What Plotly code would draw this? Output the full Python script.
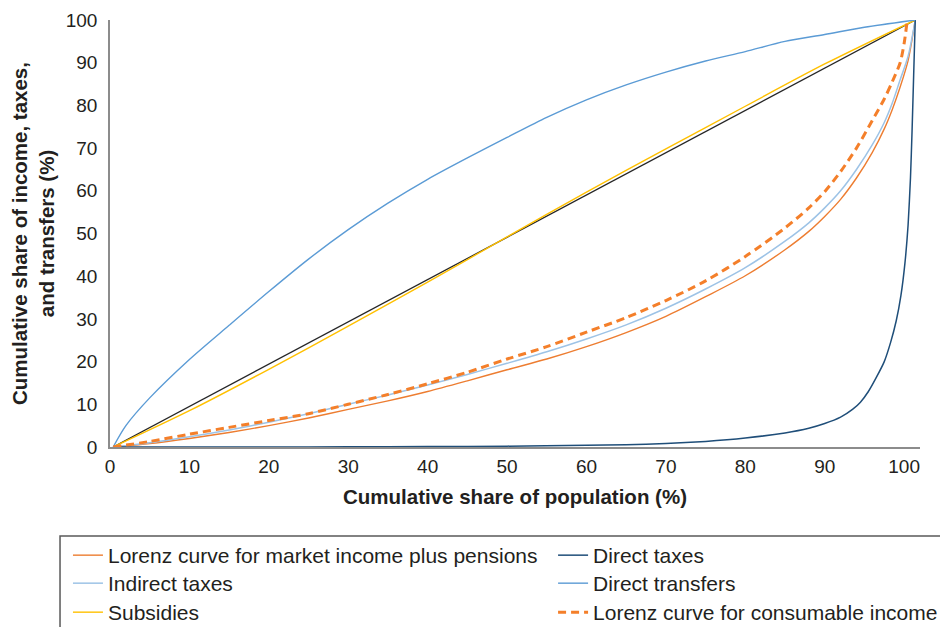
import plotly.graph_objects as go

# ---- data ----
equality_x = [0.4, 101.4]
equality_y = [0, 100]

lorenz_x = [0.4, 5, 10, 15, 20, 25, 30, 35, 40, 45, 50, 55, 60, 65, 70, 75, 80, 85, 88, 90, 92, 94, 96, 97.5, 98.5, 99.5, 100.5, 101.4]
market_y = [0, 0.8, 2.0, 3.4, 5.0, 6.8, 8.8, 10.8, 13.0, 15.5, 18.1, 20.6, 23.5, 26.8, 30.6, 35.2, 40.1, 46.2, 50.5, 54.0, 58.0, 63.0, 69.0, 74.5, 79.0, 84.3, 90.5, 100]
indirect_y = [0, 1.0, 2.4, 4.0, 5.8, 7.8, 10.0, 12.2, 14.5, 17.0, 19.6, 22.3, 25.3, 28.6, 32.5, 37.0, 42.0, 48.2, 52.5, 56.0, 60.0, 65.0, 70.8, 76.0, 80.5, 86.0, 91.5, 100]

consumable_x = [0.4, 5, 10, 15, 20, 25, 30, 35, 40, 45, 50, 55, 60, 65, 70, 75, 80, 85, 88, 90, 92, 94, 96, 97.5, 98.5, 99.5, 100.0, 100.4]
consumable_y = [0, 1.3, 3.0, 4.6, 6.2, 7.8, 10.0, 12.3, 14.8, 17.5, 20.6, 23.5, 26.9, 30.3, 34.3, 38.9, 44.6, 51.3, 56.0, 59.8, 64.5, 70.0, 76.5, 81.5, 85.5, 90.0, 94.5, 100]

transfers_x = [0.4, 2, 5, 10, 15, 20, 25, 30, 35, 40, 45, 50, 55, 60, 65, 70, 75, 80, 85, 90, 95, 101.4]
transfers_y = [0, 5, 11.5, 20.5, 28.5, 36.4, 44.0, 50.9, 57.1, 62.7, 67.7, 72.5, 77.2, 81.3, 84.8, 87.8, 90.4, 92.6, 95.0, 96.6, 98.3, 100]

subsidies_x = [0.4, 10, 20, 30, 40, 50, 60, 70, 80, 90, 101.4]
subsidies_y = [0, 8.5, 18.2, 28.3, 38.6, 49.2, 59.7, 69.8, 79.8, 89.7, 100]

dtax_x = [0.4, 10, 20, 30, 40, 50, 60, 65, 70, 75, 80, 85, 88, 90, 92, 93.5, 94.5, 95.5, 96.5, 97.5, 98.3, 99, 99.6, 100.1, 100.5, 100.8, 101.0, 101.2, 101.4]
dtax_y = [0, 0, 0, 0.05, 0.1, 0.2, 0.4, 0.5, 0.8, 1.3, 2.1, 3.3, 4.4, 5.5, 7.0, 8.8, 10.5, 13.0, 16.3, 20.0, 24.5, 29.5, 35.5, 43.0, 52.0, 63.0, 74.0, 87.0, 100]

x_ticks = [0, 10, 20, 30, 40, 50, 60, 70, 80, 90, 100]
y_ticks = [0, 10, 20, 30, 40, 50, 60, 70, 80, 90, 100]

names = {
    "market": "Lorenz curve for market income plus pensions",
    "dtax": "Direct taxes",
    "indirect": "Indirect taxes",
    "transfers": "Direct transfers",
    "subsidies": "Subsidies",
    "consumable": "Lorenz curve for consumable income",
}

FONT = "Liberation Sans, Arial, sans-serif"

fig = go.Figure()
fig.add_trace(go.Scatter(x=equality_x, y=equality_y, mode="lines", showlegend=False,
                         line=dict(color="#262626", width=1.3), hoverinfo="skip"))
fig.add_trace(go.Scatter(x=lorenz_x, y=market_y, mode="lines", name=names["market"], legend="legend",
                         line=dict(color="#ED7D31", width=1.4, shape="spline", smoothing=0.8)))
fig.add_trace(go.Scatter(x=lorenz_x, y=indirect_y, mode="lines", name=names["indirect"], legend="legend2",
                         line=dict(color="#9DC3E6", width=1.5, shape="spline", smoothing=0.8)))
fig.add_trace(go.Scatter(x=subsidies_x, y=subsidies_y, mode="lines", name=names["subsidies"], legend="legend3",
                         line=dict(color="#FFC000", width=1.4, shape="spline", smoothing=0.8)))
fig.add_trace(go.Scatter(x=dtax_x, y=dtax_y, mode="lines", name=names["dtax"], legend="legend4",
                         line=dict(color="#1F4E79", width=1.5, shape="spline", smoothing=0.6)))
fig.add_trace(go.Scatter(x=transfers_x, y=transfers_y, mode="lines", name=names["transfers"], legend="legend5",
                         line=dict(color="#5B9BD5", width=1.4, shape="spline", smoothing=0.8)))
fig.add_trace(go.Scatter(x=consumable_x, y=consumable_y, mode="lines", name=names["consumable"], legend="legend6",
                         line=dict(color="#F47F2A", width=3, dash="8px,5px", shape="spline", smoothing=0.8)))

legend_common = dict(
    orientation="v", yanchor="top", xanchor="left",
    font=dict(family=FONT, size=21, color="#231F20"),
    bgcolor="rgba(0,0,0,0)", borderwidth=0, traceorder="normal",
)
col1_x, col2_x = -0.0519, 0.547
row_y = [-0.2061, -0.2717, -0.3396]

fig.update_layout(
    width=948, height=627,
    margin=dict(l=102, r=36, t=12, b=188, autoexpand=False),
    paper_bgcolor="white", plot_bgcolor="white",
    font=dict(family=FONT, color="#231F20", size=19),
    showlegend=True,
    legend=dict(x=col1_x, y=row_y[0], **legend_common),
    legend2=dict(x=col1_x, y=row_y[1], **legend_common),
    legend3=dict(x=col1_x, y=row_y[2], **legend_common),
    legend4=dict(x=col2_x, y=row_y[0], **legend_common),
    legend5=dict(x=col2_x, y=row_y[1], **legend_common),
    legend6=dict(x=col2_x, y=row_y[2], **legend_common),
    shapes=[dict(type="rect", xref="paper", yref="paper",
                 x0=-0.0617, x1=1.2, y0=-0.6, y1=-0.2084,
                 line=dict(color="#595959", width=1.5), fillcolor="rgba(0,0,0,0)", layer="below")],
)

fig.update_xaxes(
    range=[0, 102], tickvals=x_ticks, ticktext=[str(v) for v in x_ticks],
    showgrid=False, zeroline=False, showline=True, linecolor="#8C8C8C", linewidth=1.5,
    ticks="", ticklabelstandoff=1, tickfont=dict(size=19),
    title=dict(text="<b>Cumulative share of population (%)</b>", font=dict(size=20.5), standoff=14),
)
fig.update_yaxes(
    range=[0, 100], tickvals=y_ticks, ticktext=[str(v) for v in y_ticks],
    showgrid=False, zeroline=False, showline=True, linecolor="#8C8C8C", linewidth=1.5,
    ticks="", ticklabelstandoff=7, tickfont=dict(size=19),
    title=dict(text="<b>Cumulative share of income, taxes,<br>and transfers (%)</b>", font=dict(size=20.5), standoff=8),
)

fig.write_html("out.html")
